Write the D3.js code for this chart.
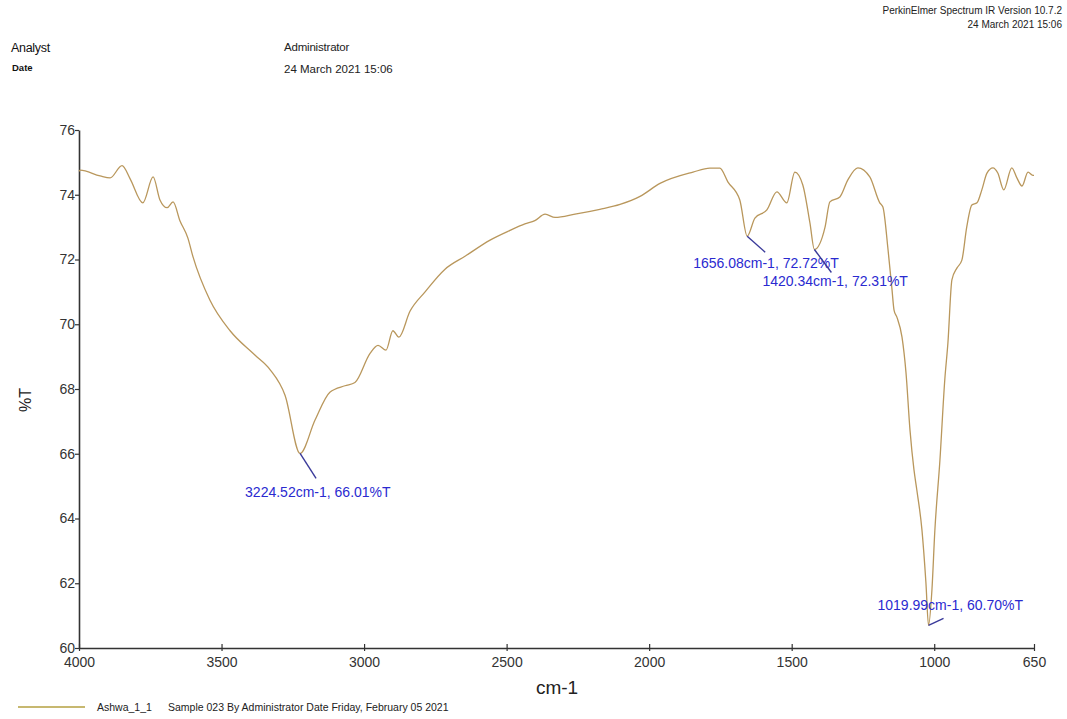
<!DOCTYPE html>
<html>
<head>
<meta charset="utf-8">
<script src="https://cdn.jsdelivr.net/npm/d3@7/dist/d3.min.js"></script>
<style>
  html, body { margin: 0; padding: 0; background: #ffffff; }
  svg { display: block; font-family: "Liberation Sans", Arial, sans-serif; }
</style>
</head>
<body>
<svg id="chart" width="1067" height="719"></svg>
<script>
// IR spectrum: wavenumber (cm-1) vs transmittance (%T)
const wavenumbers = [
  4000, 3996, 3926, 3891, 3849, 3821, 3776, 3740, 3716, 3691, 3670, 3646, 3618, 3600,
  3541, 3470, 3383, 3330, 3277, 3224.52, 3172, 3120, 3067, 3032, 2979, 2951, 2923, 2899,
  2878, 2839, 2786, 2716, 2646, 2558, 2488, 2436, 2401, 2365, 2330, 2260, 2173, 2102,
  2032, 1962, 1846, 1787, 1752, 1724, 1682, 1656.08, 1629, 1587, 1552, 1517, 1489, 1461,
  1436, 1420.34, 1383, 1366, 1331, 1303, 1268, 1226, 1191, 1180, 1162, 1148, 1141, 1131,
  1113, 1099, 1085, 1071, 1061, 1043, 1029, 1019.99, 1008, 998, 980, 963, 952, 938,
  920, 903, 886, 868, 850, 833, 815, 794, 777, 756, 728, 710, 692, 671, 654, 650
];
const transmittance = [
  74.72, 74.76, 74.58, 74.52, 74.9, 74.5, 73.75, 74.55, 73.84, 73.6, 73.78, 73.2, 72.66, 72.08,
  70.75, 69.8, 69.05, 68.6, 67.8, 66.01, 67.04, 67.9, 68.1, 68.2, 69.1, 69.35, 69.2, 69.8,
  69.6, 70.4, 71.0, 71.7, 72.1, 72.6, 72.9, 73.1, 73.2, 73.4, 73.3, 73.4, 73.55, 73.7,
  73.95, 74.35, 74.7, 74.82, 74.82, 74.4, 73.84, 72.72, 73.28, 73.53, 74.09, 73.75, 74.7, 74.3,
  73.13, 72.31, 73.0, 73.78, 73.93, 74.46, 74.83, 74.55, 73.75, 73.62, 72.3, 71.06, 70.44, 70.22,
  69.6, 68.5, 66.73, 65.5, 64.88, 63.64, 62.0, 60.70, 61.8, 63.6, 65.8, 68.28, 69.42, 71.37,
  71.74, 71.98, 73.0, 73.68, 73.75, 74.15, 74.67, 74.83, 74.67, 74.15, 74.83, 74.52, 74.27, 74.7, 74.6, 74.6
];

// Labelled peaks
const peakWavenumbers = [3224.52, 1656.08, 1420.34, 1019.99];
const peakTransmittance = [66.01, 72.72, 72.31, 60.70];

const xTicks = [4000, 3500, 3000, 2500, 2000, 1500, 1000, 650];
const yTicks = [60, 62, 64, 66, 68, 70, 72, 74, 76];

const seriesName = "Ashwa_1_1";
const seriesInfo = "Sample 023 By Administrator Date Friday, February 05 2021";

const svg = d3.select("#chart");

const x = d3.scaleLinear().domain([4000, 650]).range([79, 1034]);
const y = d3.scaleLinear().domain([60, 76]).range([648, 130]);

// Header
svg.append("text").attr("x", 1062).attr("y", 14).attr("text-anchor", "end")
  .attr("font-size", 10).attr("fill", "#222").text("PerkinElmer Spectrum IR Version 10.7.2");
svg.append("text").attr("x", 1062).attr("y", 28).attr("text-anchor", "end")
  .attr("font-size", 10).attr("fill", "#222").text("24 March 2021 15:06");
svg.append("text").attr("x", 11).attr("y", 52)
  .attr("font-size", 12.5).attr("fill", "#111").attr("letter-spacing", -0.3).text("Analyst");
svg.append("text").attr("x", 12).attr("y", 71)
  .attr("font-size", 9.5).attr("font-weight", "bold").attr("fill", "#111").text("Date");
svg.append("text").attr("x", 284).attr("y", 51)
  .attr("font-size", 11.5).attr("fill", "#222").attr("letter-spacing", -0.2).text("Administrator");
svg.append("text").attr("x", 284).attr("y", 73)
  .attr("font-size", 11.5).attr("fill", "#222").text("24 March 2021 15:06");

// Axes
const yAxis = d3.axisLeft(y).tickValues(yTicks).tickSize(4).tickSizeOuter(0).tickPadding(0)
  .tickFormat(d3.format("d"));
const gy = svg.append("g").attr("transform", "translate(79,0)").call(yAxis);

const xAxis = d3.axisBottom(x).tickValues(xTicks).tickSize(-4).tickSizeOuter(0).tickPadding(9)
  .tickFormat(d3.format("d"));
const gx = svg.append("g").attr("transform", "translate(0,648)").call(xAxis);

[gx, gy].forEach(g => {
  g.select(".domain").attr("stroke", "#333").attr("stroke-width", 1.6);
  g.selectAll(".tick line").attr("stroke", "#333").attr("stroke-width", 1.2);
  g.selectAll(".tick text").attr("font-size", 14).attr("fill", "#333")
    .attr("font-family", "Liberation Sans, Arial, sans-serif");
});
gx.selectAll(".tick line").attr("y1", 3);

// Axis titles
svg.append("text").attr("x", 557).attr("y", 694).attr("text-anchor", "middle")
  .attr("font-size", 19).attr("fill", "#222").text("cm-1");
svg.append("text").attr("transform", "translate(31,400) rotate(-90)").attr("text-anchor", "middle")
  .attr("font-size", 16).attr("fill", "#222").text("%T");

// Spectrum trace
const pts = wavenumbers.map((w, i) => [w, transmittance[i]]);
const line = d3.line().x(d => x(d[0])).y(d => y(d[1])).curve(d3.curveMonotoneX);
svg.append("path").datum(pts).attr("d", line)
  .attr("fill", "none").attr("stroke", "#b9975c").attr("stroke-width", 1.3);

// Peak annotations
const leaderOffsets = [[16, 25], [18, 16], [17, 23], [15, -7]];
const labelOffsets = [[-55, 44], [-54, 32], [-52, 37], [-51, -15]];
const fmt = d3.format(".2f");
peakWavenumbers.forEach((w, i) => {
  const px = x(w), py = y(peakTransmittance[i]);
  svg.append("line")
    .attr("x1", px).attr("y1", py)
    .attr("x2", px + leaderOffsets[i][0]).attr("y2", py + leaderOffsets[i][1])
    .attr("stroke", "#3a3a9a").attr("stroke-width", 1.4);
  svg.append("text")
    .attr("x", px + labelOffsets[i][0]).attr("y", py + labelOffsets[i][1])
    .attr("font-size", 14).attr("fill", "#2a2ad0")
    .text(`${fmt(w)}cm-1, ${fmt(peakTransmittance[i])}%T`);
});

// Legend
svg.append("line").attr("x1", 18).attr("x2", 85).attr("y1", 707).attr("y2", 707)
  .attr("stroke", "#b5a040").attr("stroke-width", 1.3);
svg.append("text").attr("x", 97).attr("y", 711).attr("font-size", 10.5).attr("fill", "#222")
  .text(seriesName);
svg.append("text").attr("x", 168).attr("y", 711).attr("font-size", 10.5).attr("fill", "#222")
  .text(seriesInfo);
</script>
</body>
</html>
